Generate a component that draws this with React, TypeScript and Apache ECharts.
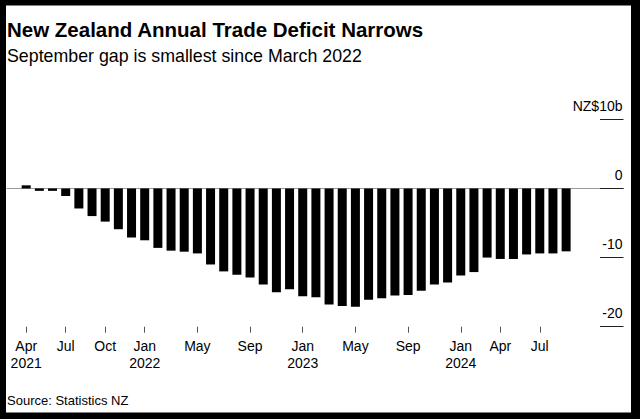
import React, { useEffect, useRef } from "react";
import * as echarts from "echarts";

const months = [
  "Apr 2021", "May 2021", "Jun 2021", "Jul 2021", "Aug 2021", "Sep 2021",
  "Oct 2021", "Nov 2021", "Dec 2021", "Jan 2022", "Feb 2022", "Mar 2022",
  "Apr 2022", "May 2022", "Jun 2022", "Jul 2022", "Aug 2022", "Sep 2022",
  "Oct 2022", "Nov 2022", "Dec 2022", "Jan 2023", "Feb 2023", "Mar 2023",
  "Apr 2023", "May 2023", "Jun 2023", "Jul 2023", "Aug 2023", "Sep 2023",
  "Oct 2023", "Nov 2023", "Dec 2023", "Jan 2024", "Feb 2024", "Mar 2024",
  "Apr 2024", "May 2024", "Jun 2024", "Jul 2024", "Aug 2024", "Sep 2024",
];

const deficit = [
  0.45, -0.35, -0.35, -1.1, -2.9, -4.0,
  -4.8, -5.9, -7.1, -7.5, -8.6, -9.0,
  -9.15, -9.4, -11.0, -12.0, -12.5, -12.9,
  -13.9, -15.0, -14.6, -15.6, -15.75, -16.8,
  -17.0, -17.1, -16.1, -15.9, -15.5, -15.4,
  -14.8, -13.9, -13.6, -12.6, -12.1, -10.0,
  -10.2, -10.2, -9.55, -9.4, -9.4, -9.1,
];

const tickedMonths = [
  "Apr 2021", "Jul 2021", "Oct 2021", "Jan 2022", "May 2022", "Sep 2022",
  "Jan 2023", "May 2023", "Sep 2023", "Jan 2024", "Apr 2024", "Jul 2024",
];

const yTicks = [-20, -10, 0, 10];

const titleText = "New Zealand Annual Trade Deficit Narrows";
const subtitleText = "September gap is smallest since March 2022";
const sourceText = "Source: Statistics NZ";

const FONT = "'Liberation Sans', Arial, Helvetica, sans-serif";

export default function App() {
  const ref = useRef<HTMLDivElement>(null);

  useEffect(() => {
    if (!ref.current) return;
    const chart = echarts.init(ref.current, undefined, { renderer: "svg" });
    const isTicked = (_i: number, v: string) => tickedMonths.indexOf(v) >= 0;
    const yMin = yTicks[0];
    const yMax = yTicks[yTicks.length - 1];

    chart.setOption({
      animation: false,
      backgroundColor: "#ffffff",
      textStyle: { fontFamily: FONT },
      grid: [
        { left: 19.6, right: 67.3, top: 119.3, bottom: 92.3, containLabel: false },
        { left: 7, right: 16.5, top: 119.3, bottom: 92.3, containLabel: false },
      ],
      xAxis: [
        {
          type: "category",
          gridIndex: 0,
          data: months,
          boundaryGap: true,
          position: "bottom",
          axisLine: { show: false, onZero: false },
          axisTick: {
            show: true,
            interval: isTicked,
            alignWithLabel: true,
            length: 6,
            lineStyle: { color: "#555", width: 1 },
          },
          axisLabel: {
            interval: isTicked,
            margin: 11,
            color: "#000",
            fontSize: 14,
            lineHeight: 17,
            fontFamily: FONT,
            formatter: (value: string, idx: number) => {
              const parts = value.split(" ");
              return idx === 0 || parts[0] === "Jan" ? parts[0] + "\n" + parts[1] : parts[0];
            },
          },
          splitLine: { show: false },
        },
        {
          type: "value",
          gridIndex: 1,
          min: 0,
          max: 1,
          axisLine: { show: true, onZero: true, lineStyle: { color: "#9a9a9a", width: 1 } },
          axisTick: { show: false },
          axisLabel: { show: false },
          splitLine: { show: false },
        },
      ],
      yAxis: [
        {
          type: "value",
          gridIndex: 0,
          min: yMin,
          max: yMax,
          interval: 10,
          show: false,
        },
        {
          type: "value",
          gridIndex: 1,
          position: "right",
          min: yMin,
          max: yMax,
          interval: 10,
          axisLine: { show: false, onZero: false },
          axisTick: {
            show: true,
            inside: true,
            length: 23.5,
            lineStyle: { color: "#222", width: 1 },
          },
          axisLabel: {
            inside: true,
            margin: 1,
            align: "right",
            verticalAlign: "middle",
            lineHeight: 27,
            color: "#000",
            fontSize: 14,
            fontFamily: FONT,
            formatter: (v: number) => (v === yMax ? "NZ$10b" : String(v)) + "\n ",
          },
          splitLine: { show: false },
        },
      ],
      series: [
        {
          type: "bar",
          xAxisIndex: 0,
          yAxisIndex: 0,
          data: deficit,
          barWidth: 9,
          itemStyle: { color: "#000" },
          z: 3,
        },
      ],
      graphic: [
        {
          type: "text",
          left: 7,
          top: 19,
          style: {
            text: titleText,
            fontFamily: FONT,
            fontWeight: "bold",
            fontSize: 20.5,
            fill: "#000",
          },
        },
        {
          type: "text",
          left: 7,
          top: 47,
          style: {
            text: subtitleText,
            fontFamily: FONT,
            fontSize: 17.8,
            fill: "#000",
          },
        },
        {
          type: "text",
          left: 7,
          top: 394,
          style: {
            text: sourceText,
            fontFamily: FONT,
            fontSize: 13,
            fill: "#000",
          },
        },
        { type: "rect", shape: { x: 0, y: 0, width: 640, height: 5.5 }, style: { fill: "#000" } },
        { type: "rect", shape: { x: 0, y: 0, width: 6, height: 419 }, style: { fill: "#000" } },
        { type: "rect", shape: { x: 631, y: 0, width: 9, height: 419 }, style: { fill: "#000" } },
        { type: "rect", shape: { x: 0, y: 412.5, width: 640, height: 7 }, style: { fill: "#000" } },
      ],
    });

    return () => chart.dispose();
  }, []);

  return (
    <div
      ref={ref}
      style={{ position: "fixed", left: 0, top: 0, width: 640, height: 419, background: "#fff" }}
    />
  );
}
